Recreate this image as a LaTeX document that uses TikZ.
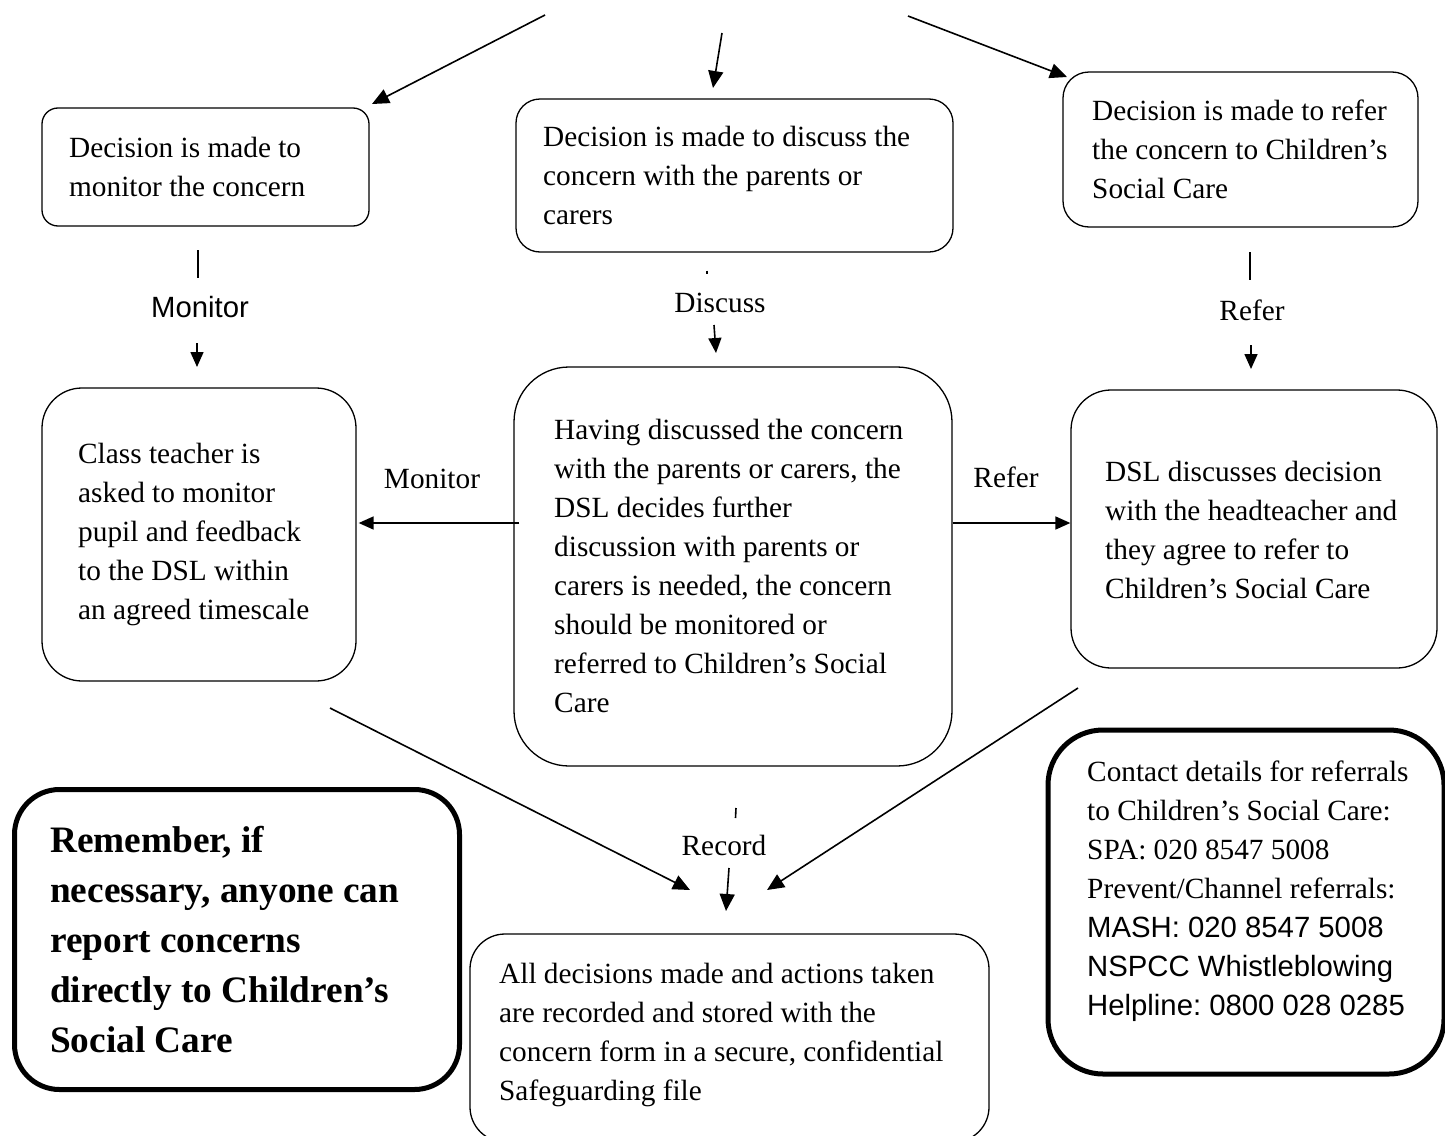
\documentclass[tikz,border=0pt]{standalone}
\usepackage{fontspec}
\setmainfont{Liberation Serif}
\newfontfamily\sansf{Liberation Sans}
\usetikzlibrary{arrows.meta,calc}
\frenchspacing
\begin{document}
\begin{tikzpicture}[x=1pt,y=-1pt,
  box/.style={draw, line width=1.3pt, inner sep=0pt},
  thickbox/.style={draw, line width=5pt, inner sep=0pt},
  txt/.style={anchor=west, align=left, inner sep=0pt, font=\fontsize{29.3}{39}\selectfont\frenchspacing},
  boldtxt/.style={anchor=west, align=left, inner sep=0pt, font=\fontsize{37.3}{50}\selectfont\bfseries\frenchspacing},
  lbl/.style={inner sep=0pt, font=\fontsize{29.3}{39}\selectfont},
  slbl/.style={inner sep=0pt, font=\fontsize{29.3}{39}\selectfont\sansf},
  arr/.style={line width=1.6pt, -{Triangle[length=17pt,width=15pt]}},
  sarr/.style={line width=1.6pt, -{Triangle[length=15pt,width=13pt]}},
  ln/.style={line width=1.6pt}]
\path[use as bounding box] (0,0) rectangle (1445,1135);
\clip (0,0) rectangle (1445,1135);

% boxes
\node[box, rounded corners=16pt, minimum width=327pt, minimum height=118pt] (a) at (205.5,167) {};
\node[txt] (at) at (69,166.5) {Decision is made to\\monitor the concern};

\node[box, rounded corners=24pt, minimum width=437pt, minimum height=153pt] (b) at (734.5,175.5) {};
\node[txt] (bt) at (543,175) {Decision is made to discuss the\\concern with the parents or\\carers};

\node[box, rounded corners=26pt, minimum width=355pt, minimum height=155pt] (c) at (1240.5,149.5) {};
\node[txt] (ct) at (1092,149) {Decision is made to refer\\the concern to Children’s\\Social Care};

\node[box, rounded corners=40pt, minimum width=314pt, minimum height=293pt] (d) at (199,534.5) {};
\node[txt] (dt) at (78,534) {Class teacher is\\asked to monitor\\pupil and feedback\\to the DSL within\\an agreed timescale};

\node[box, rounded corners=55pt, minimum width=438pt, minimum height=399pt] (e) at (733,566.5) {};
\node[txt] (et) at (554,565.5) {Having discussed the concern\\with the parents or carers, the\\DSL decides further\\discussion with parents or\\carers is needed, the concern\\should be monitored or\\referred to Children’s Social\\Care};

\node[box, rounded corners=40pt, minimum width=366pt, minimum height=278pt] (f) at (1254,529) {};
\node[txt] (ft) at (1105,529.5) {DSL discusses decision\\with the headteacher and\\they agree to refer to\\Children’s Social Care};

\node[thickbox, rounded corners=45pt, minimum width=445pt, minimum height=300pt] (g) at (237,939.5) {};
\node[boldtxt] (gt) at (50,940) {Remember, if\\necessary, anyone can\\report concerns\\directly to Children’s\\Social Care};

\node[thickbox, rounded corners=55pt, minimum width=396pt, minimum height=344pt] (h) at (1246,902) {};
\node[txt] (ht) at (1087,891) {Contact details for referrals\\to Children’s Social Care:\\SPA: 020 8547 5008\\Prevent/Channel referrals:\\{\sansf MASH: 020 8547 5008}\\{\sansf NSPCC Whistleblowing}\\{\sansf Helpline: 0800 028 0285}};

\node[box, rounded corners=35pt, minimum width=519pt, minimum height=208pt] (i) at (729.5,1038) {};
\node[txt] (it) at (499,1035) {All decisions made and actions taken\\are recorded and stored with the\\concern form in a secure, confidential\\Safeguarding file};

% labels
\node[slbl] (l1) at (200,307) {Monitor};
\node[lbl] (l2) at (720,303) {Discuss};
\node[lbl] (l3) at (1252,310) {Refer};
\node[lbl] (l4) at (432,479) {Monitor};
\node[lbl] (l5) at (1006,477) {Refer};
\node[lbl] (l6) at (724,845) {Record};

% free ends
\coordinate (s1) at (545,15);
\coordinate (e1) at (372,104);
\coordinate (s2) at (722,33);
\coordinate (e2) at (713,88);
\coordinate (s3) at (908,16);
\coordinate (e3) at (1067,77);
\coordinate (k1a) at (198,250);
\coordinate (k1b) at (198,278);
\coordinate (m1a) at (197,343);
\coordinate (m1b) at (197,367);
\coordinate (k2a) at (707,270.5);
\coordinate (k2b) at (707,273.5);
\coordinate (m2a) at (714,325);
\coordinate (m2b) at (716,353);
\coordinate (k3a) at (1250,252);
\coordinate (k3b) at (1250,280);
\coordinate (m3a) at (1251,345);
\coordinate (m3b) at (1251,369);
\coordinate (hl) at (0,523);
\coordinate (s9) at (330,708);
\coordinate (e9) at (690,890);
\coordinate (s10) at (1078,688);
\coordinate (e10) at (767,890);
\coordinate (k4a) at (736,808);
\coordinate (k4b) at (735.5,818);
\coordinate (m4a) at (729,868);
\coordinate (m4b) at (726,911);

% connectors
\draw[arr] (s1) -- (e1);
\draw[arr] (s2) -- (e2);
\draw[arr] (s3) -- (e3);
\draw[ln] (k1a) -- (k1b);
\draw[sarr] (m1a) -- (m1b);
\draw[ln] (k2a) -- (k2b);
\draw[sarr] (m2a) -- (m2b);
\draw[ln] (k3a) -- (k3b);
\draw[sarr] (m3a) -- (m3b);
\draw[sarr] ([xshift=6pt]e.west |- hl) -- ([xshift=2pt]d.east |- hl);
\draw[sarr] (e.east |- hl) -- (f.west |- hl);
\draw[arr] (s9) -- (e9);
\draw[arr] (s10) -- (e10);
\draw[ln] (k4a) -- (k4b);
\draw[arr] (m4a) -- (m4b);
\end{tikzpicture}
\end{document}
